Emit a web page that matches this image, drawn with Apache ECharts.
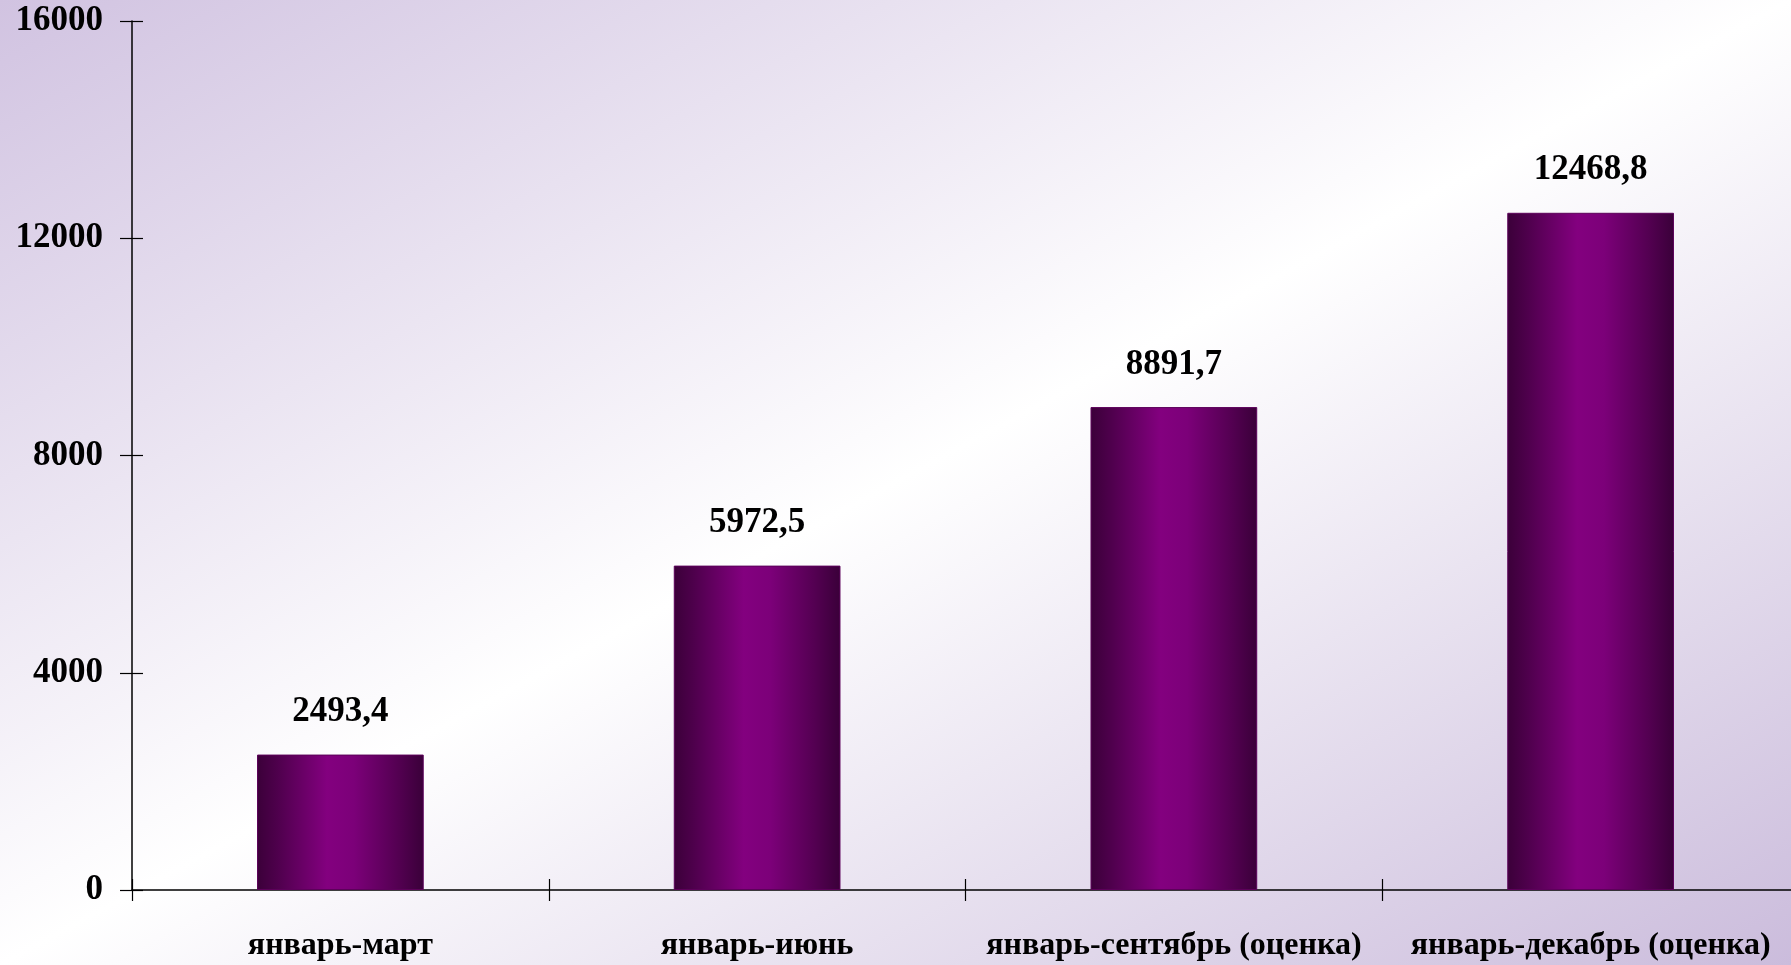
<!DOCTYPE html>
<html>
<head>
<meta charset="utf-8">
<script src="https://cdn.jsdelivr.net/npm/echarts@6/dist/echarts.min.js"></script>
<style>
  html, body {
    margin: 0;
    padding: 0;
    width: 1791px;
    height: 965px;
    overflow: hidden;
    background: linear-gradient(to bottom right, #d1c3e1 0%, #ffffff 50%, #cbbcdc 100%);
  }
  #chart {width: 1791px; height: 965px;}
</style>
</head>
<body>
<div id="chart"></div>
<script>
const categories = [
  'январь-март',
  'январь-июнь',
  'январь-сентябрь (оценка)',
  'январь-декабрь (оценка)',
]
const values = [2493.4, 5972.5, 8891.7, 12468.8]
const yTicks = {min: 0, max: 16000, interval: 4000}

const font = 'Liberation Serif, Times New Roman, serif'

const barColor = new echarts.graphic.LinearGradient(0, 0, 1, 0, [
  {offset: 0, color: '#3b0039'},
  {offset: 0.12, color: '#4e004c'},
  {offset: 0.42, color: '#83007f'},
  {offset: 0.58, color: '#7c0079'},
  {offset: 0.85, color: '#530051'},
  {offset: 1, color: '#3a0039'},
])

const chart = echarts.init(document.getElementById('chart'))

// the plot runs a few px past the right edge, like in the source slide
chart.setOption({
  backgroundColor: 'transparent',
  animation: false,
  grid: {
    left: 132,
    top: 21,
    bottom: 75,
    width: 1667,
    containLabel: false,
    outerBoundsMode: 'none',
  },
  xAxis: [
    {
      type: 'category',
      data: categories,
      axisLine: {lineStyle: {color: '#000', width: 1.5}},
      axisTick: {show: true, length: 11, lineStyle: {color: '#000', width: 1.2}},
      axisLabel: {
        color: '#000',
        fontFamily: font,
        fontWeight: 'bold',
        fontSize: 32,
        margin: 40,
        interval: 0,
      },
    },
    {
      type: 'category',
      data: categories,
      position: 'bottom',
      axisLine: {show: false},
      axisTick: {show: true, inside: true, length: 11, lineStyle: {color: '#000', width: 1.2}},
      axisLabel: {show: false},
    },
  ],
  yAxis: [
    {
      type: 'value',
      min: yTicks.min,
      max: yTicks.max,
      interval: yTicks.interval,
      splitLine: {show: false},
      axisLine: {show: true, lineStyle: {color: '#000', width: 1.5}},
      axisTick: {show: true, length: 12, lineStyle: {color: '#000', width: 1.2}},
      axisLabel: {
        color: '#000',
        fontFamily: font,
        fontWeight: 'bold',
        fontSize: 35,
        margin: 29,
        formatter: (v) => String(v),
      },
    },
    {
      type: 'value',
      min: yTicks.min,
      max: yTicks.max,
      interval: yTicks.interval,
      position: 'left',
      splitLine: {show: false},
      axisLine: {show: false},
      axisTick: {show: true, inside: true, length: 11, lineStyle: {color: '#000', width: 1.2}},
      axisLabel: {show: false},
    },
  ],
  series: [
    {
      type: 'bar',
      data: values,
      barWidth: '40%',
      itemStyle: {
        color: barColor,
        borderColor: '#5c005a',
        borderWidth: 1,
      },
      label: {
        show: true,
        position: 'top',
        distance: 25,
        color: '#000',
        fontFamily: font,
        fontWeight: 'bold',
        fontSize: 35,
        formatter: (p) => String(p.value).replace('.', ','),
      },
    },
  ],
})
</script>
</body>
</html>
